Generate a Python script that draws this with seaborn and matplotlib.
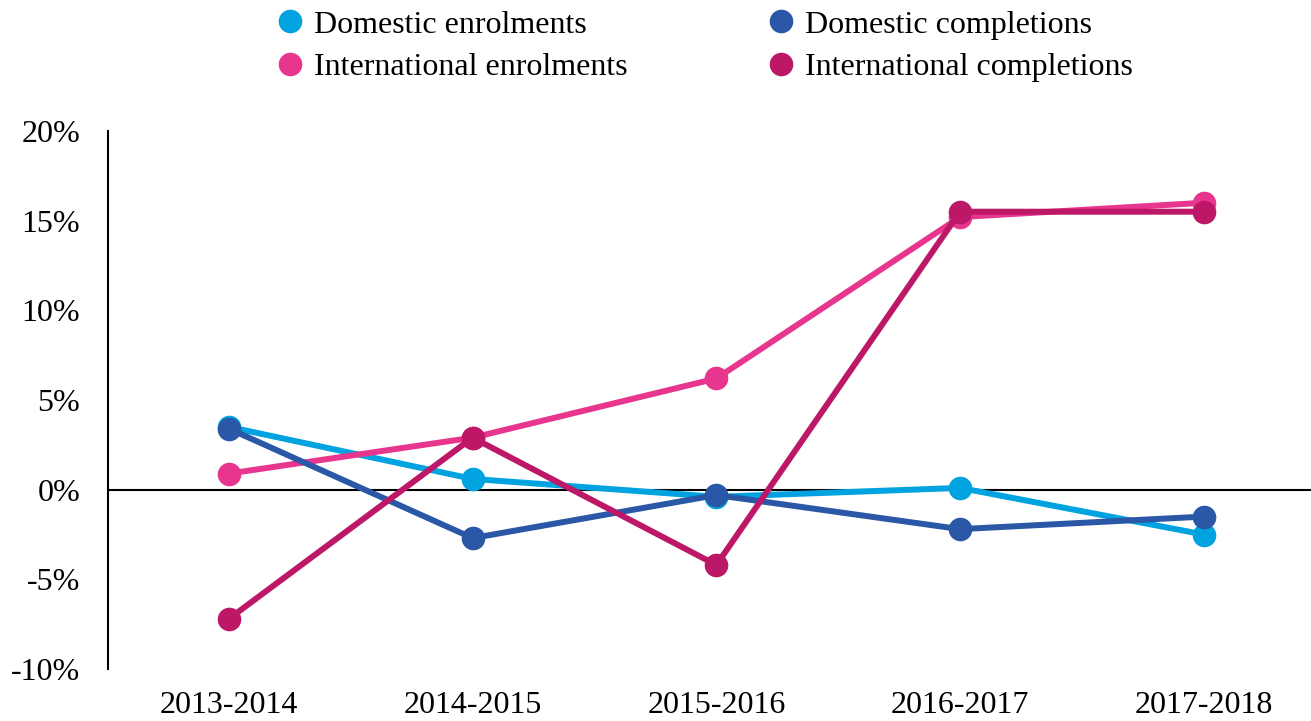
import pandas as pd
import matplotlib.pyplot as plt
import seaborn as sns

# Datos (variacion anual, %)
periods = ['2013-2014', '2014-2015', '2015-2016', '2016-2017', '2017-2018']
domestic_enrolments = [3.5, 0.6, -0.4, 0.1, -2.5]
domestic_completions = [3.4, -2.7, -0.3, -2.2, -1.5]
international_enrolments = [0.9, 2.9, 6.2, 15.2, 16.0]
international_completions = [-7.2, 2.9, -4.2, 15.5, 15.5]

series_names = ['Domestic enrolments', 'International enrolments',
                'Domestic completions', 'International completions']
series_values = [domestic_enrolments, international_enrolments,
                 domestic_completions, international_completions]
colors = {'Domestic enrolments': '#00A3E0',
          'International enrolments': '#E8368E',
          'Domestic completions': '#2A57A6',
          'International completions': '#BD1868'}

rows = []
for name, vals in zip(series_names, series_values):
    for i, v in enumerate(vals):
        rows.append({'x': i, 'period': periods[i], 'value': v, 'series': name})
df = pd.DataFrame(rows)

sns.set_style('white')
plt.rcParams['font.family'] = ['Liberation Serif', 'DejaVu Serif']
plt.rcParams['text.color'] = 'black'

fig = plt.figure(figsize=(13.11, 7.21), dpi=100)
ax = fig.add_axes([0.0824, 0.0721, 0.9176, 0.7462])

ax.axhline(0, color='black', lw=1.5, zorder=1)
sns.lineplot(data=df, x='x', y='value', hue='series', hue_order=series_names,
             palette=colors, marker='o', markersize=17, markeredgewidth=0,
             linewidth=4.3, sort=False, ax=ax, zorder=3)

ax.set_xlim(-0.496, 4.44)
ax.set_ylim(-10, 20)
ax.set_yticks([-10, -5, 0, 5, 10, 15, 20])
ax.set_yticklabels([f'{t}%' for t in [-10, -5, 0, 5, 10, 15, 20]])
ax.set_xticks(range(len(periods)))
ax.set_xticklabels(periods)
ax.tick_params(axis='both', length=0, labelsize=23, colors='black')
ax.tick_params(axis='y', pad=20)
ax.tick_params(axis='x', pad=16)
ax.set_xlabel('')
ax.set_ylabel('')

for s in ['top', 'right', 'bottom']:
    ax.spines[s].set_visible(False)
ax.spines['left'].set_color('black')
ax.spines['left'].set_linewidth(1.5)

handles, labels = ax.get_legend_handles_labels()
ax.get_legend().remove()
leg = fig.legend(handles, labels, loc='upper center', ncol=2, frameon=False,
                 fontsize=23, bbox_to_anchor=(0.543, 1.008), borderaxespad=0.1,
                 handlelength=0, handletextpad=0.75, columnspacing=4.8,
                 labelspacing=0.42)
for h in leg.legend_handles:
    h.set_linestyle('')
    h.set_markersize(17)
for t in leg.get_texts():
    t.set_color('black')

plt.savefig('out.png', dpi=100)
